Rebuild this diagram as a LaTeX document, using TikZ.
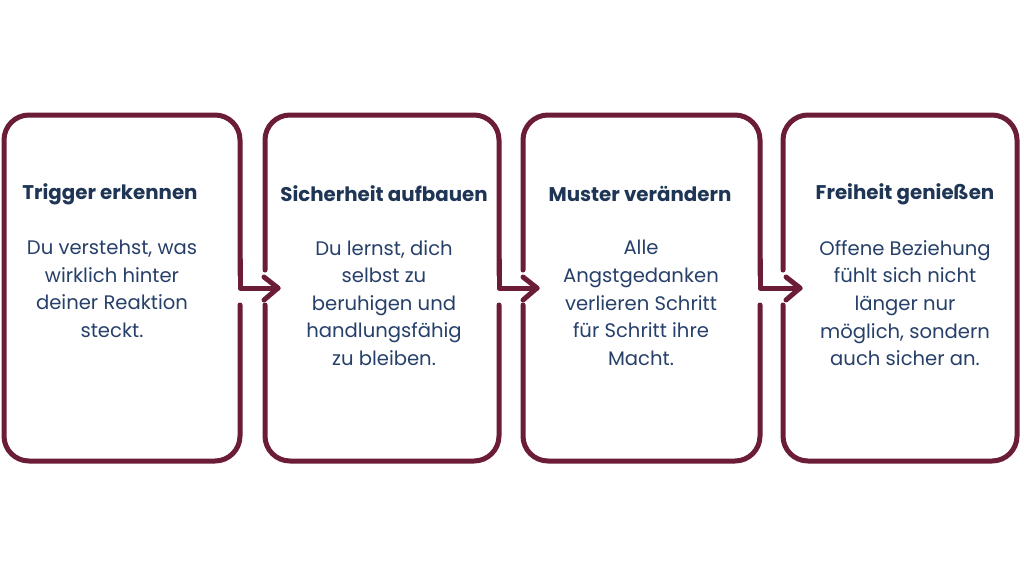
\documentclass[tikz,border=0pt]{standalone}
\usepackage{fontspec}
\setmainfont{Poppins}
\definecolor{maroon}{HTML}{6B1D38}
\definecolor{navy}{HTML}{1E3555}
\definecolor{bodyblue}{HTML}{27406A}
\begin{document}
\begin{tikzpicture}[x=1pt,y=-1pt,
  border/.style={draw=maroon,line width=5pt,line cap=round,line join=round},
  title/.style={font=\bfseries\fontsize{19.8}{22}\selectfont,text=navy,inner sep=0pt},
  body/.style={font=\fontsize{19.6}{27.6}\selectfont,text=bodyblue,align=center,inner sep=0pt}]
\useasboundingbox[fill=white] (0,0) rectangle (1024,576);
% coordinates
\coordinate (a1s) at (240,260); \coordinate (a1c) at (240,288); \coordinate (a1t) at (278,288);
\coordinate (a2s) at (499,260); \coordinate (a2c) at (499,288); \coordinate (a2t) at (537,288);
\coordinate (a3s) at (760,260); \coordinate (a3c) at (760,288); \coordinate (a3t) at (800,288);
% box 1
\draw[border,rounded corners=25pt] (240,305) -- (240,461) -- (4,461) -- (4,115) -- (240,115) -- (240,275);
% box 2
\draw[border,rounded corners=25pt] (265,270) -- (265,115) -- (499,115) -- (499,275);
\draw[border,rounded corners=25pt] (265,305) -- (265,461) -- (499,461) -- (499,305);
% box 3
\draw[border,rounded corners=25pt] (523,270) -- (523,115) -- (760,115) -- (760,275);
\draw[border,rounded corners=25pt] (523,305) -- (523,461) -- (760,461) -- (760,305);
% box 4
\draw[border,rounded corners=25pt] (783,270) -- (783,115) -- (1017,115) -- (1017,461) -- (783,461) -- (783,305);
% arrows
\draw[border] (a1s) -- (a1c) -- (a1t);
\draw[border] ([shift={(-14,-11)}]a1t) -- (a1t) -- ([shift={(-14,12)}]a1t);
\draw[border] (a2s) -- (a2c) -- (a2t);
\draw[border] ([shift={(-14,-11)}]a2t) -- (a2t) -- ([shift={(-14,12)}]a2t);
\draw[border] (a3s) -- (a3c) -- (a3t);
\draw[border] ([shift={(-14,-11)}]a3t) -- (a3t) -- ([shift={(-14,12)}]a3t);
% texts
\node[title] (t1) at (110,194) {Trigger erkennen};
\node[body] (b1) at (112,289) {Du verstehst, was\\wirklich hinter\\deiner Reaktion\\steckt.};
\node[title] (t2) at (384,194) {Sicherheit aufbauen};
\node[body] (b2) at (384,303) {Du lernst, dich\\selbst zu\\beruhigen und\\handlungsfähig\\zu bleiben.};
\node[title] (t3) at (640,194) {Muster verändern};
\node[body] (b3) at (641,303) {Alle\\Angstgedanken\\verlieren Schritt\\für Schritt ihre\\Macht.};
\node[title] (t4) at (905,194) {Freiheit genießen};
\node[body] (b4) at (905,303) {Offene Beziehung\\fühlt sich nicht\\länger nur\\möglich, sondern\\auch sicher an.};
\end{tikzpicture}
\end{document}
